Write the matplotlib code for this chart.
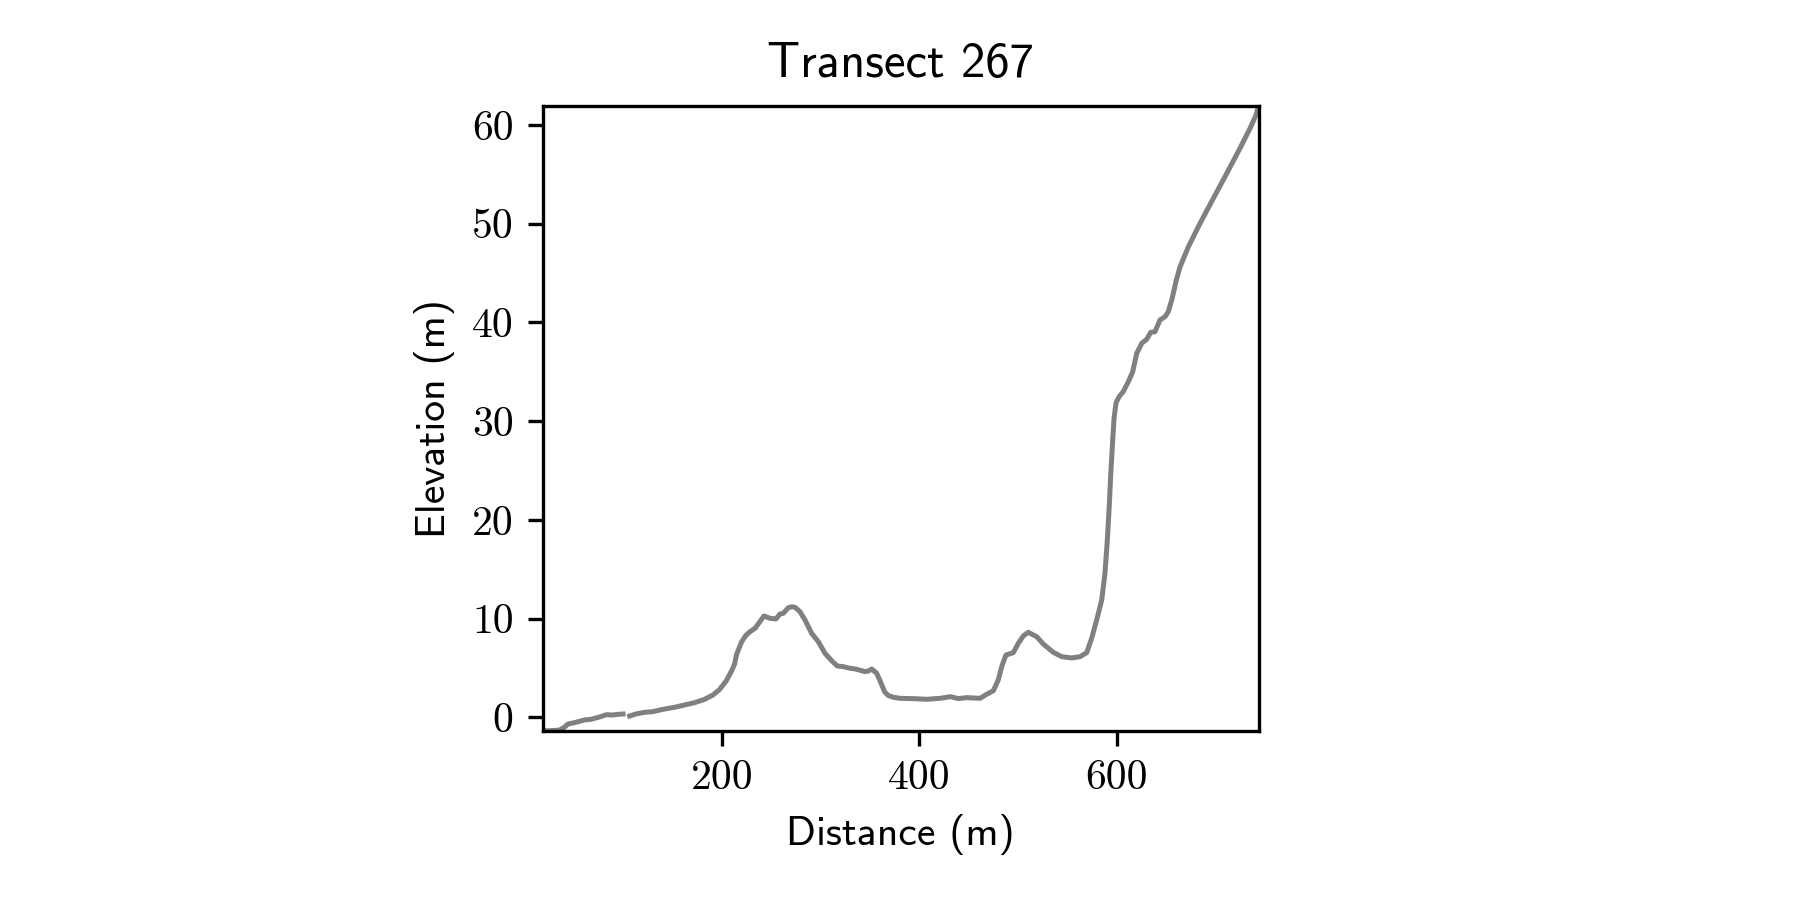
import numpy as np
import matplotlib
matplotlib.use("Agg")
import matplotlib.pyplot as plt

# Transect profile (distance in m, elevation in m); NaN marks a data gap
distance = [17.9, 25, 35, 40, 43.5, 50.3, 60.4, 67.1, 75.7, 82.4, 89.2, 94, 99.3,
            102.7,
            106.1, 113, 121.3, 129.7, 139.9, 151.7, 161.9, 172, 182.1, 190.6, 197.4,
            204.1, 209.5, 212.5, 214.6, 219.7, 224, 228.1, 233.2, 238.2, 242.3, 248.4,
            254.4, 258.5, 261.9, 266.9, 270.5, 273.7, 278.8, 283.9, 290.6, 297.4,
            304.2, 311, 316.6, 322.7, 327.8, 336.3, 344.7, 348.5, 351.5, 356.6,
            361.7, 364.5, 368.4, 373.4, 380.2, 393.7, 407.3, 420.8, 431.6, 439.3,
            447.9, 461.4, 468.2, 474.9, 479.9, 483.4, 487.7, 495.1, 500.2, 505.3,
            510.3, 518.9, 525.6, 535.7, 544.2, 554.4, 562.8, 569.6, 574.6, 579.7,
            584.8, 588.1, 590.5, 592.5, 593.9, 595.6, 597.3, 599.4, 602.6, 606.7,
            611.8, 616.2, 620.3, 625.4, 630.4, 634.5, 638.8, 643.9, 649.0, 652.3,
            655.8, 660.5, 664.3, 672.7, 684.5, 698.0, 711.6, 725.0, 735.2, 741.3,
            743.8]
elevation = [-1.36, -1.36, -1.3, -1.0, -0.68, -0.54, -0.27, -0.2, 0.03, 0.26, 0.23, 0.3, 0.33,
             np.nan,
             0.13, 0.35, 0.5, 0.57, 0.81, 1.01, 1.25, 1.48, 1.82, 2.26, 2.83,
             3.7, 4.7, 5.4, 6.4, 7.66, 8.3, 8.67, 9.01, 9.69, 10.26, 10.03,
             9.96, 10.46, 10.53, 11.1, 11.2, 11.15, 10.7, 9.86, 8.51, 7.66,
             6.48, 5.73, 5.2, 5.13, 5.0, 4.86, 4.62, 4.7, 4.89, 4.46,
             3.3, 2.6, 2.2, 2.03, 1.92, 1.89, 1.82, 1.92, 2.09, 1.89,
             1.99, 1.92, 2.33, 2.69, 3.78, 5.13, 6.31, 6.54, 7.49, 8.24,
             8.61, 8.16, 7.42, 6.58, 6.14, 6.01, 6.14, 6.55, 8.0, 9.86,
             11.88, 14.59, 17.96, 21.5, 24.5, 27.5, 30.3, 31.9, 32.5, 33.0,
             34.0, 35.0, 36.87, 37.89, 38.29, 39.0, 39.06, 40.25, 40.58, 41.09,
             42.27, 44.3, 45.65, 47.67, 50.04, 52.57, 55.1, 57.64, 59.66, 61.01,
             61.96]

x_ticks = [200, 400, 600]
y_ticks = [0, 10, 20, 30, 40, 50, 60]

fig = plt.figure(figsize=(6, 3), dpi=300)
ax = fig.add_axes([542.7 / 1800, (900 - 730.7) / 900, (1258.5 - 542.7) / 1800, (730.7 - 105.7) / 900])

ax.plot(distance, elevation, color="gray", linewidth=1.2)
ax.margins(0)
ax.set_xticks(x_ticks)
ax.set_yticks(y_ticks)
ax.set_xticklabels([str(t) for t in x_ticks], fontfamily="cmr10", fontsize=10)
ax.set_yticklabels([str(t) for t in y_ticks], fontfamily="cmr10", fontsize=10)
ax.set_xlabel("Distance (m)", fontfamily="cmss10", fontsize=10)
ax.set_ylabel("Elevation (m)", fontfamily="cmss10", fontsize=10)
ax.set_title("Transect 267", fontfamily="cmss10", fontsize=11.7, pad=6.8)

fig.savefig("out.png", dpi=300)
